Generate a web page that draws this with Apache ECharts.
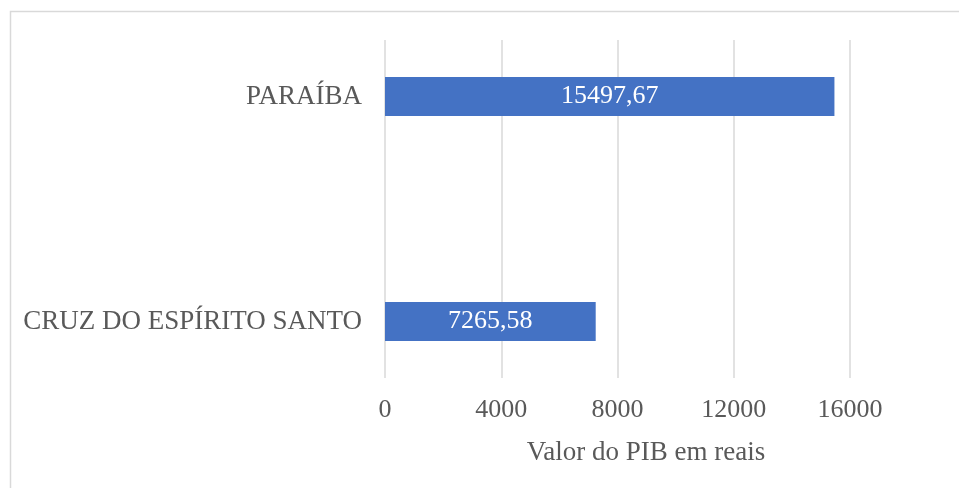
<!DOCTYPE html>
<html>
<head>
<meta charset="utf-8">
<script src="https://cdn.jsdelivr.net/npm/echarts@6/dist/echarts.min.js"></script>
<style>
  html, body { margin: 0; padding: 0; background: #fff; }
  #chart { width: 959px; height: 488px; }
</style>
</head>
<body>
<div id="chart"></div>
<script>
// categories bottom -> top (ECharts category y axis starts at the bottom)
const categories = ["CRUZ DO ESPÍRITO SANTO", "PARAÍBA"];
const pibValues = [7265.58, 15497.67];
const axisMax = 16000;
const axisStep = 4000;
const axisTitle = "Valor do PIB em reais";

const font = '"Liberation Serif", "Times New Roman", serif';
const grey = "#595959";

const chart = echarts.init(document.getElementById("chart"));

const option = {
  animation: false,
  graphic: [
    {
      type: "rect",
      shape: { x: 10.5, y: 11.5, width: 1000, height: 1000 },
      style: { fill: "none", stroke: "#d9d9d9", lineWidth: 1.5 },
      silent: true
    }
  ],
  grid: [
    // bars
    { left: 385, right: 52, top: -16, bottom: 54, outerBoundsMode: "none" },
    // gridlines + tick labels
    { left: 385, right: 109, top: 40, bottom: 110, outerBoundsMode: "none" }
  ],
  xAxis: [
    {
      gridIndex: 0,
      type: "value",
      min: 0,
      max: 18000,
      name: axisTitle,
      nameLocation: "middle",
      nameGap: 5,
      nameTextStyle: { fontFamily: font, fontSize: 27, color: grey },
      axisLine: { show: false },
      axisTick: { show: false },
      axisLabel: { show: false },
      splitLine: { show: false }
    },
    {
      gridIndex: 1,
      type: "value",
      min: 0,
      max: axisMax,
      interval: axisStep,
      axisLine: { show: false },
      axisTick: { show: false },
      axisLabel: {
        margin: 19,
        fontFamily: font,
        fontSize: 26,
        color: grey,
        formatter: (v) => String(v)
      },
      splitLine: { show: true, lineStyle: { color: "#d9d9d9", width: 1.5 } }
    }
  ],
  yAxis: [
    {
      gridIndex: 0,
      type: "category",
      data: categories,
      axisLine: { show: false },
      axisTick: { show: false },
      axisLabel: {
        margin: 23,
        fontFamily: font,
        fontSize: 27,
        color: grey
      }
    },
    {
      gridIndex: 1,
      type: "category",
      data: categories,
      show: false
    }
  ],
  series: [
    {
      type: "bar",
      xAxisIndex: 0,
      yAxisIndex: 0,
      data: pibValues,
      barWidth: 39,
      itemStyle: { color: "#4472C4" },
      label: {
        show: true,
        position: "inside",
        color: "#fff",
        fontFamily: font,
        fontSize: 26,
        formatter: (p) => p.value.toFixed(2).replace(".", ",")
      }
    }
  ]
};

chart.setOption(option);
</script>
</body>
</html>
